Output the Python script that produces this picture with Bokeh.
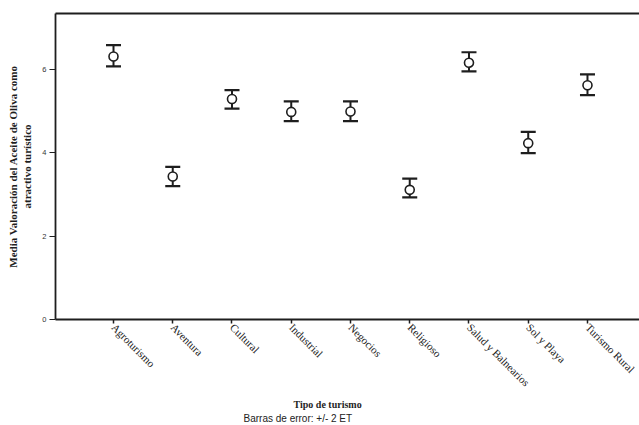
import math
from bokeh.plotting import figure
from bokeh.models import (ColumnDataSource, Whisker, TeeHead, FixedTicker, Range1d,
                          LinearAxis, Title)
from bokeh.embed import file_html
from bokeh.resources import INLINE

# ---- data ----
categories = ["Agroturismo", "Aventura", "Cultural", "Industrial", "Negocios",
              "Religioso", "Salud y Balnearios", "Sol y Playa", "Turismo Rural"]
means = [6.31, 3.43, 5.29, 4.98, 4.99, 3.11, 6.16, 4.23, 5.62]
upper = [6.58, 3.66, 5.50, 5.23, 5.23, 3.38, 6.41, 4.50, 5.88]
lower = [6.07, 3.20, 5.06, 4.76, 4.76, 2.93, 5.95, 3.99, 5.38]
y_ticks = [0, 2, 4, 6]

y_title = "Media Valoración del Aceite de Oliva como\natractivo turístico"
x_title = "Tipo de turismo"
note = "Barras de error: +/- 2 ET"

positions = list(range(1, len(categories) + 1))
src = ColumnDataSource(dict(x=positions, mean=means, upper=upper, lower=lower))

INK = "#1e1e1e"

p = figure(width=639, height=425, output_backend="svg", toolbar_location=None,
           x_range=Range1d(0.021, 9.878), y_range=Range1d(0, 7.34),
           min_border_left=55, min_border_right=0, min_border_top=13,
           min_border_bottom=106)
p.outline_line_color = None
p.grid.visible = False
p.background_fill_color = "white"
p.border_fill_color = "white"

w = Whisker(source=src, base="x", upper="upper", lower="lower",
            line_color=INK, line_width=2,
            upper_head=TeeHead(size=15, line_color=INK, line_width=2.2),
            lower_head=TeeHead(size=15, line_color=INK, line_width=2.2))
p.add_layout(w)
p.scatter("x", "mean", source=src, marker="circle", size=9,
          fill_color="white", line_color=INK, line_width=1.6)

# x axis
xa = p.xaxis[0]
xa.ticker = FixedTicker(ticks=positions)
xa.major_label_overrides = {pos: c for pos, c in zip(positions, categories)}
xa.major_label_orientation = -math.pi / 4
xa.major_label_text_font = "Liberation Serif"
xa.major_label_text_font_size = "11px"
xa.major_label_text_color = "#222222"
xa.major_label_standoff = 2
xa.minor_tick_line_color = None
xa.major_tick_in = 0
xa.major_tick_out = 4
xa.major_tick_line_color = INK
xa.major_tick_line_width = 1.5
xa.axis_line_color = INK
xa.axis_line_width = 1.8

# y axis
ya = p.yaxis[0]
ya.ticker = FixedTicker(ticks=y_ticks)
ya.minor_tick_line_color = None
ya.major_tick_in = 0
ya.major_tick_out = 6
ya.major_tick_line_color = INK
ya.major_tick_line_width = 1.2
ya.axis_line_color = INK
ya.axis_line_width = 1.8
ya.major_label_text_font = "Liberation Sans"
ya.major_label_text_font_size = "7.5px"
ya.major_label_text_color = "#333333"
ya.major_label_standoff = 3
ya.axis_label = y_title
ya.axis_label_text_font = "Liberation Serif"
ya.axis_label_text_font_style = "bold"
ya.axis_label_text_font_size = "11px"
ya.axis_label_text_color = INK
ya.axis_label_standoff = 6

# top border line
top = LinearAxis(ticker=FixedTicker(ticks=[]), axis_line_color=INK, axis_line_width=1.8,
                 major_tick_line_color=None, minor_tick_line_color=None,
                 major_label_text_font_size="0px", major_label_standoff=0,
                 major_tick_out=0, minor_tick_out=0)
p.add_layout(top, "above")

t1 = Title(text=x_title, align="left", offset=238, text_font="Liberation Serif",
           text_font_style="bold", text_font_size="10px", text_color=INK,
           standoff=2)
t2 = Title(text=note, align="left", offset=188, text_font="Liberation Sans",
           text_font_style="normal", text_font_size="10px", text_color="#222222",
           standoff=0)
p.add_layout(t1, "below")
p.add_layout(t2, "below")

open("out.html", "w").write(file_html(p, INLINE))
